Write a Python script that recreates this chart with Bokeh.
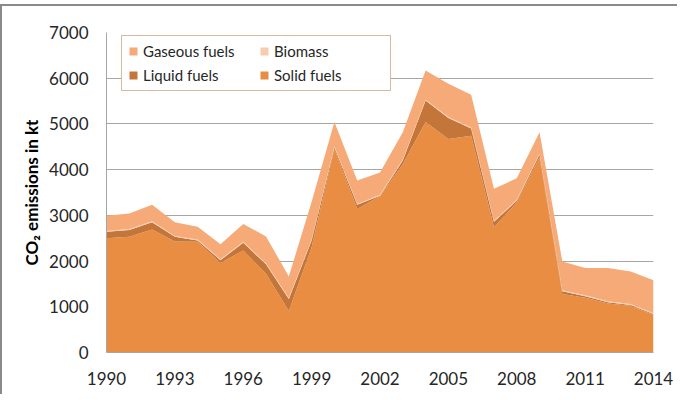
from bokeh.plotting import figure
from bokeh.models import ColumnDataSource, Legend, LegendItem, FixedTicker, Range1d
from bokeh.embed import file_html
from bokeh.resources import INLINE

years = list(range(1990, 2015))
solid = [2500, 2530, 2690, 2430, 2420, 1960, 2230, 1720, 910, 2300, 4450, 3140, 3420,
         4120, 5040, 4670, 4740, 2740, 3280, 4270, 1280, 1200, 1070, 1020, 820]
liquid = [140, 150, 160, 100, 30, 60, 170, 210, 260, 150, 40, 90, 10,
          80, 470, 460, 160, 120, 40, 60, 60, 30, 30, 20, 20]
biomass = [20] * 25
gaseous = [330, 340, 360, 300, 280, 330, 390, 590, 470, 830, 530, 510, 490,
           600, 640, 730, 720, 700, 470, 470, 630, 600, 730, 710, 720]

x_ticks = [1990, 1993, 1996, 1999, 2002, 2005, 2008, 2011, 2014]
y_ticks = [0, 1000, 2000, 3000, 4000, 5000, 6000, 7000]

names = ["solid", "liquid", "biomass", "gaseous"]
labels = {"solid": "Solid fuels", "liquid": "Liquid fuels", "biomass": "Biomass", "gaseous": "Gaseous fuels"}
colors = {"solid": "#E88D42", "liquid": "#C4763A", "biomass": "#F8CAAE", "gaseous": "#F5AA78"}

source = ColumnDataSource(dict(year=years, solid=solid, liquid=liquid, biomass=biomass, gaseous=gaseous))

p = figure(width=677, height=390, output_backend="svg", toolbar_location=None,
           x_range=Range1d(1990, 2014), y_range=Range1d(0, 7000),
           min_border_left=104, min_border_right=26, min_border_top=26, min_border_bottom=44)
p.margin = (4, 0, 0, 0)
p.styles = {"border-left": "2px solid #8a8a8a", "border-top": "2px solid #8a8a8a"}
p.outline_line_color = None

renderers = p.varea_stack(names, x="year", source=source, color=[colors[n] for n in names])
rmap = dict(zip(names, renderers))

font = "Lato"
p.xaxis.ticker = FixedTicker(ticks=x_ticks)
p.yaxis.ticker = FixedTicker(ticks=y_ticks)
for ax in (p.xaxis[0], p.yaxis[0]):
    ax.major_tick_line_color = None
    ax.minor_tick_line_color = None
    ax.axis_line_color = "#A6A6A6"
    ax.axis_line_width = 1
    ax.major_label_text_font = font
    ax.major_label_text_font_size = "17px"
    ax.major_label_text_color = "#262626"
p.xaxis.major_label_standoff = 13
p.yaxis.major_label_standoff = 12
p.yaxis.axis_label = "CO₂ emissions in kt"
p.yaxis.axis_label_text_font = font
p.yaxis.axis_label_text_font_style = "bold"
p.yaxis.axis_label_text_font_size = "17px"
p.yaxis.axis_label_text_color = "#000000"
p.yaxis.axis_label_standoff = 4

p.xgrid.grid_line_color = None
p.ygrid.grid_line_color = "#A6A6A6"
p.ygrid.grid_line_width = 1

# column-first fill: col1 = gaseous, liquid ; col2 = biomass, solid
order = ["gaseous", "liquid", "biomass", "solid"]
legend = Legend(items=[LegendItem(label=labels[n], renderers=[rmap[n]]) for n in order],
                ncols=2, location=(15, 261))
legend.border_line_color = "#B8733F"
legend.border_line_width = 1
legend.background_fill_color = "white"
legend.background_fill_alpha = 1
legend.label_text_font = font
legend.label_text_font_size = "15px"
legend.label_text_color = "#262626"
legend.glyph_width = 10
legend.glyph_height = 10
legend.label_width = 110
legend.label_standoff = 5
legend.spacing = 6
legend.padding = 6
legend.margin = 0
p.add_layout(legend, "center")

open("out.html", "w").write(file_html(p, INLINE))
